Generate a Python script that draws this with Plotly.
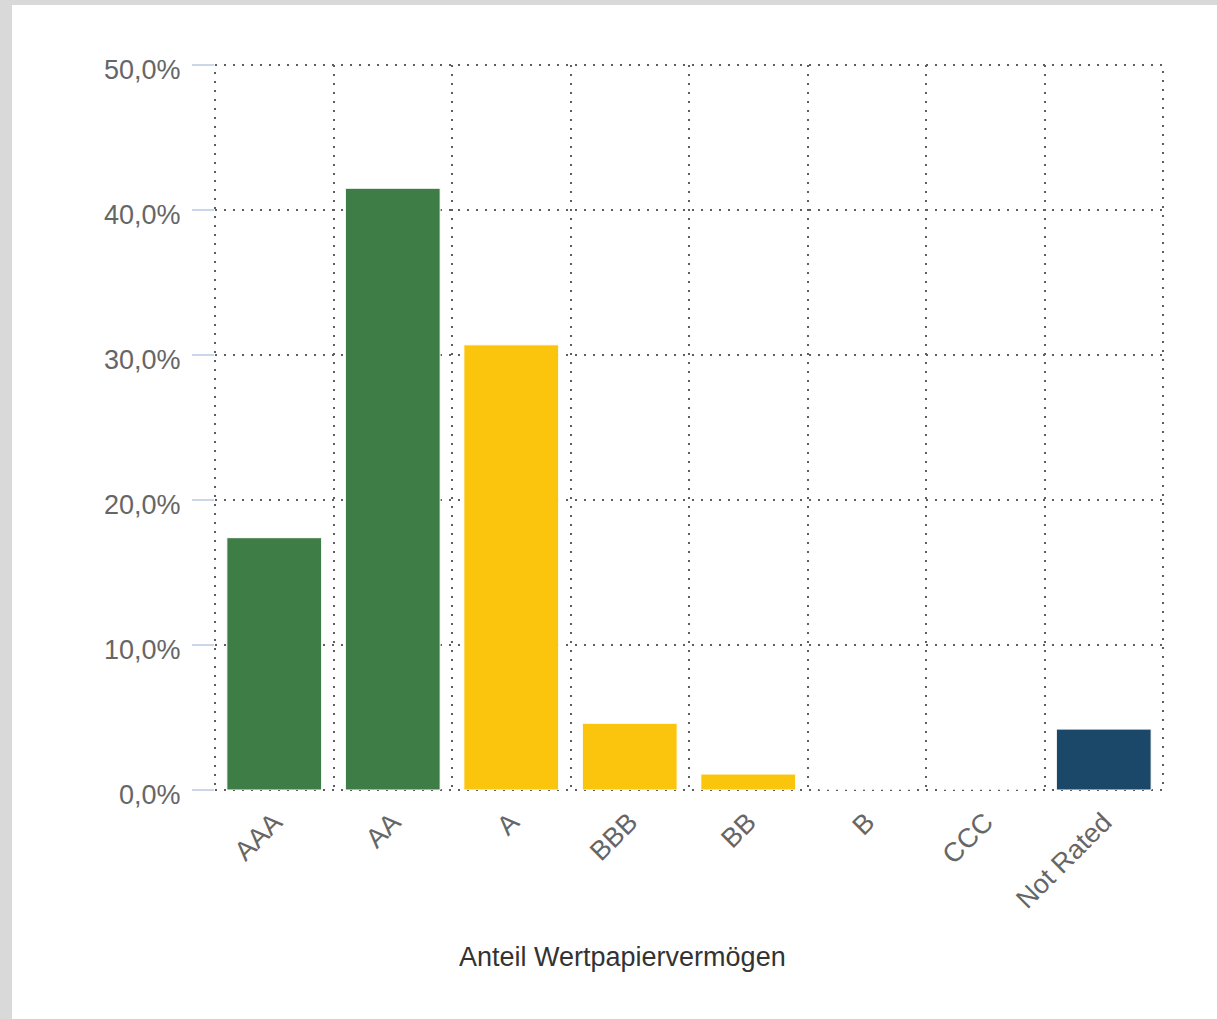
import plotly.graph_objects as go

# Rating categories and share of securities assets (%)
ratings = ["AAA", "AA", "A", "BBB", "BB", "B", "CCC", "Not Rated"]
shares = [17.4, 41.5, 30.7, 4.6, 1.1, 0.0, 0.0, 4.2]
bar_colors = ["#3e7d45", "#3e7d45", "#fbc40d", "#fbc40d", "#fbc40d",
              "#fbc40d", "#fbc40d", "#1b4869"]

y_ticks = [0, 10, 20, 30, 40, 50]
y_labels = ["0,0%", "10,0%", "20,0%", "30,0%", "40,0%", "50,0%"]

FONT = "Liberation Sans, Arial, sans-serif"
GRID = "#5e5e5e"
DOTS = "2px,7px"

fig = go.Figure(
    go.Bar(
        x=ratings,
        y=shares,
        marker=dict(color=bar_colors, line=dict(color="white", width=1)),
        hovertemplate="%{x}: %{y:.1f}%<extra></extra>",
    )
)

# grey frame along top/left edge, white card on top of it
fig.add_shape(
    type="rect", xref="paper", yref="paper", layer="below",
    x0=(12 - 215) / 948, x1=1.2, y0=-0.5, y1=(790 - 5) / 725,
    fillcolor="white", line=dict(width=0),
)
# dotted border of the plot area (plotly drops gridlines on the edges)
fig.add_shape(
    type="rect", xref="paper", yref="paper", layer="below",
    x0=0, x1=1, y0=0, y1=1,
    line=dict(color=GRID, width=2, dash=DOTS),
)

fig.add_annotation(
    text="Anteil Wertpapiervermögen",
    xref="paper", yref="paper", x=0.43, y=-0.23,
    xanchor="center", yanchor="middle", showarrow=False,
    font=dict(size=27, color="#333333"),
)

fig.update_layout(
    width=1217,
    height=1019,
    margin=dict(l=215, r=54, t=65, b=229),
    paper_bgcolor="#d9d9d9",
    plot_bgcolor="rgba(0,0,0,0)",
    bargap=0.2,
    showlegend=False,
    font=dict(family=FONT, size=27, color="#666666"),
    xaxis=dict(
        type="category",
        tickson="boundaries",
        showgrid=True,
        gridcolor=GRID,
        gridwidth=2,
        griddash=DOTS,
        ticks="",
        tickangle=-45,
        ticklabelstandoff=10,
        tickfont=dict(size=27, color="#666666"),
        zeroline=False,
        showline=False,
    ),
    yaxis=dict(
        range=[0, 50],
        tickvals=y_ticks,
        ticktext=y_labels,
        showgrid=True,
        gridcolor=GRID,
        gridwidth=2,
        griddash=DOTS,
        ticks="outside",
        ticklen=22,
        tickwidth=2,
        tickcolor="#ccd6eb",
        ticklabelstandoff=6,
        ticklabelshift=5,
        tickfont=dict(size=27, color="#666666"),
        zeroline=False,
        showline=False,
    ),
)

fig.write_html("out.html", config={"displayModeBar": False},
               post_script="document.body.style.margin='0';")
